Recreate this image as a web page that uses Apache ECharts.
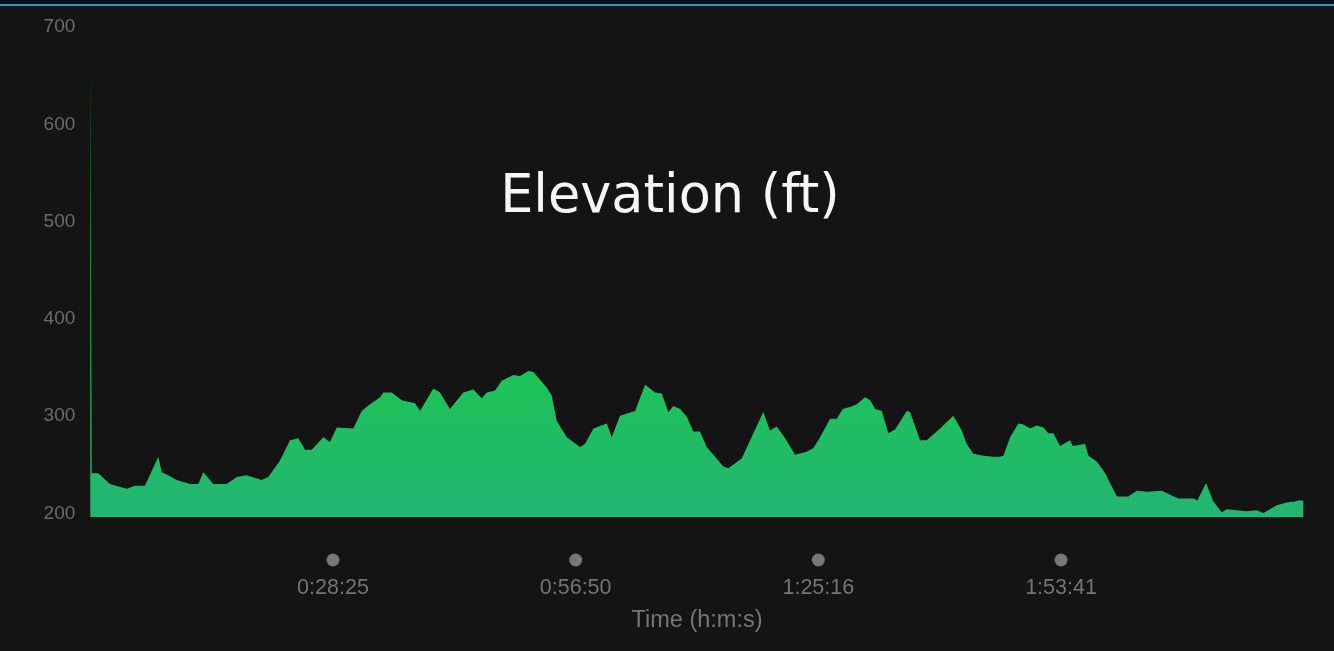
<!DOCTYPE html>
<html>
<head>
<meta charset="utf-8">
<script src="https://cdn.jsdelivr.net/npm/echarts@6/dist/echarts.min.js"></script>
<style>
html,body{margin:0;padding:0;background:#141414;}
#chart{width:1334px;height:651px;}
</style>
</head>
<body>
<div id="chart"></div>
<script>
// Elapsed time (seconds) and elevation (ft)
const timeSec = [0, 10, 56, 138, 256, 314, 384, 478, 502, 548, 607, 701, 759, 794, 864, 958, 1029, 1099, 1204, 1251,
  1333, 1403, 1462, 1509, 1556, 1637, 1684, 1732, 1848, 1907, 1965, 2036, 2059, 2118, 2188, 2282, 2317, 2410, 2457, 2527,
  2621, 2691, 2750, 2786, 2844, 2891, 2972, 3020, 3078, 3113, 3207, 3242, 3277, 3348, 3441, 3476, 3535, 3629, 3664, 3722,
  3828, 3898, 3968, 4015, 4062, 4097, 4144, 4191, 4237, 4284, 4331, 4390, 4448, 4483, 4577, 4659, 4729, 4776, 4823, 4882,
  4952, 5034, 5081, 5128, 5198, 5245, 5287, 5339, 5386, 5444, 5480, 5515, 5561, 5608, 5655, 5737, 5760, 5830, 5877, 5971,
  6064, 6123, 6158, 6205, 6275, 6345, 6392, 6416, 6463, 6521, 6556, 6603, 6650, 6697, 6732, 6767, 6814, 6885, 6903, 6990,
  7013, 7072, 7131, 7213, 7294, 7353, 7424, 7529, 7599, 7646, 7751, 7779, 7840, 7891, 7950, 7985, 8056, 8126, 8196, 8243,
  8337, 8407, 8465, 8488, 8523];
const elevationFt = [658, 245, 245, 234, 229, 232, 232, 262, 246, 243, 238, 234, 234, 246, 234, 234, 241, 243, 238, 241,
  258, 279, 281, 269, 269, 282, 277, 292, 291, 309, 316, 323, 328, 328, 320, 317, 309, 332, 328, 311,
  328, 331, 322, 328, 330, 340, 346, 345, 350, 349, 333, 325, 299, 282, 272, 275, 291, 296, 282, 304,
  309, 336, 328, 327, 308, 314, 311, 303, 288, 288, 272, 262, 252, 250, 260, 286, 308, 289, 293, 281,
  264, 267, 271, 282, 301, 301, 311, 313, 316, 323, 320, 311, 309, 286, 290, 309, 308, 279, 279, 291,
  304, 289, 275, 265, 263, 262, 262, 263, 282, 296, 295, 291, 294, 292, 286, 286, 273, 279, 273, 275,
  263, 257, 245, 221, 221, 227, 226, 227, 222, 219, 219, 217, 235, 216, 205, 208, 207, 206, 207, 204,
  212, 215, 216, 217, 217];
const yTicks = [200, 300, 400, 500, 600, 700];
const totalSec = 8526;
const titleText = 'Elevation (ft)';
const xName = 'Time (h:m:s)';

function hms(v) {
  const s = Math.round(v);
  const h = Math.floor(s / 3600);
  const m = Math.floor((s % 3600) / 60);
  const sec = s % 60;
  return h + ':' + String(m).padStart(2, '0') + ':' + String(sec).padStart(2, '0');
}

const seriesData = timeSec.map((t, i) => [t, elevationFt[i]]);

const chart = echarts.init(document.getElementById('chart'), null, {renderer: 'canvas'});
chart.setOption({
  backgroundColor: '#141414',
  animation: false,
  grid: {left: 90.3, right: 30.3, top: 30.5, bottom: 134, containLabel: false},
  graphic: [
    {type: 'rect', left: 0, top: 0, shape: {width: 1334, height: 4}, style: {fill: '#0b1214'}, z: 10},
    {type: 'rect', left: 0, top: 4, shape: {width: 1334, height: 2}, style: {fill: '#3d8fd1'}, z: 10},
    {type: 'text', x: 670, y: 198, style: {text: titleText, fill: '#f6f6f6', fontSize: 52.5,
      fontFamily: '"DejaVu Sans", "Open Sans", sans-serif', align: 'center', verticalAlign: 'middle'}, z: 10}
  ],
  xAxis: {
    type: 'value',
    min: 0,
    max: totalSec,
    interval: totalSec / 5,
    name: xName,
    nameLocation: 'middle',
    nameGap: 92,
    nameTextStyle: {color: '#767676', fontSize: 23.5, fontFamily: '"Liberation Sans", Arial, sans-serif'},
    axisLine: {show: false},
    axisTick: {show: false},
    splitLine: {show: false},
    axisLabel: {
      showMinLabel: false,
      showMaxLabel: false,
      margin: 33,
      formatter: function (v) {
        if (v < 1 || v > totalSec - 1) return '';
        return '{dot| }\n{t|' + hms(v) + '}';
      },
      rich: {
        dot: {width: 13, height: 13, borderRadius: 6.5, backgroundColor: '#777777', lineHeight: 20, align: 'center'},
        t: {color: '#747474', fontSize: 21.5, lineHeight: 37, fontFamily: '"Liberation Sans", Arial, sans-serif', align: 'center'}
      }
    }
  },
  yAxis: {
    type: 'value',
    min: yTicks[0],
    max: yTicks[yTicks.length - 1],
    interval: 100,
    axisLine: {show: false},
    axisTick: {show: false},
    splitLine: {show: false},
    axisLabel: {
      color: '#6c6c6c',
      fontSize: 19,
      margin: 15,
      verticalAlign: 'bottom',
      lineHeight: 7,
      fontFamily: '"Liberation Sans", Arial, sans-serif'
    }
  },
  series: [{
    type: 'line',
    data: seriesData,
    showSymbol: false,
    symbol: 'none',
    lineStyle: {width: 0},
    areaStyle: {
      opacity: 1,
      color: {
        type: 'linear', x: 0, y: 340, x2: 0, y2: 517, global: true,
        colorStops: [{offset: 0, color: '#1dc652'}, {offset: 1, color: '#23b572'}]
      }
    }
  }]
});
</script>
</body>
</html>
